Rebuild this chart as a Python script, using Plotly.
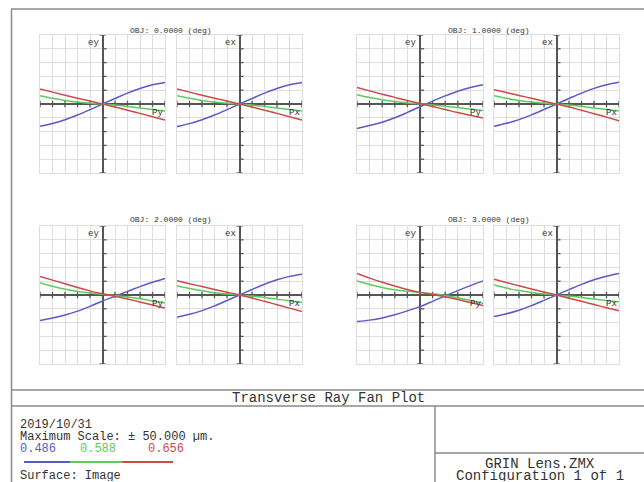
import plotly.graph_objects as go

W, H = 644, 482

# normalised pupil coordinate (Py / Px)
pupil = [-1.0, -0.8, -0.6, -0.4, -0.2, 0.0, 0.2, 0.4, 0.6, 0.8, 1.0]

field_labels = ["OBJ: 0.0000 (deg)", "OBJ: 1.0000 (deg)", "OBJ: 2.0000 (deg)", "OBJ: 3.0000 (deg)"]
wavelengths = ["0.486", "0.588", "0.656"]
wave_colors = ["#5a5ac8", "#5ccc5c", "#cc4a4a"]

# tangential (ey) and sagittal (ex) aberrations in µm
ey0_486 = [-16.2, -14.1, -11.4, -8.0, -4.1, 0.0, 4.0, 7.9, 11.2, 13.9, 15.6]
ey0_588 = [6.0, 4.1, 2.6, 1.4, 0.5, 0.0, -0.8, -1.8, -2.9, -4.0, -5.0]
ey0_656 = [10.9, 8.6, 6.4, 4.2, 2.1, 0.0, -2.2, -4.5, -6.8, -9.2, -11.6]
ex0_486 = [-16.4, -14.2, -11.4, -8.0, -4.1, 0.0, 4.0, 7.9, 11.2, 13.9, 15.6]
ex0_588 = [6.0, 4.1, 2.6, 1.4, 0.5, 0.0, -0.8, -1.8, -2.9, -4.0, -5.0]
ex0_656 = [10.9, 8.6, 6.4, 4.2, 2.1, 0.0, -2.2, -4.5, -6.8, -9.2, -11.6]

ey1_486 = [-17.7, -15.6, -13.2, -10.0, -6.1, -2.0, 2.1, 5.9, 9.3, 12.0, 14.0]
ey1_588 = [6.7, 4.7, 3.1, 1.8, 0.8, 0.1, -0.7, -1.6, -2.6, -3.7, -4.8]
ey1_656 = [12.0, 9.5, 7.1, 4.8, 2.5, 0.3, -1.8, -4.0, -6.2, -8.2, -10.1]
ex1_486 = [-16.2, -14.0, -11.3, -7.9, -4.0, 0.0, 4.0, 7.9, 11.3, 14.0, 15.8]
ex1_588 = [6.0, 4.1, 2.6, 1.4, 0.5, 0.0, -0.8, -1.8, -2.9, -4.0, -5.0]
ex1_656 = [10.4, 8.3, 6.2, 4.1, 2.0, 0.0, -2.2, -4.6, -7.0, -9.5, -12.1]

ey2_486 = [-18.5, -16.7, -14.5, -11.7, -8.2, -4.3, -0.9, 2.6, 6.1, 9.2, 12.0]
ey2_588 = [8.7, 6.3, 4.2, 2.6, 1.4, 0.5, -0.4, -1.5, -2.8, -4.3, -5.8]
ey2_656 = [13.5, 10.8, 8.1, 5.5, 3.0, 0.9, -0.9, -2.9, -5.0, -7.2, -9.4]
ex2_486 = [-16.1, -14.0, -11.3, -7.9, -4.0, 0.0, 4.0, 7.8, 11.0, 13.5, 15.1]
ex2_588 = [6.7, 4.7, 3.0, 1.7, 0.7, 0.0, -0.8, -1.8, -3.0, -4.2, -5.5]
ex2_656 = [10.3, 8.2, 6.1, 4.0, 2.0, 0.0, -2.2, -4.6, -7.0, -9.5, -12.0]

ey3_486 = [-19.2, -18.2, -16.6, -14.3, -11.5, -8.4, -4.6, -0.6, 3.2, 6.8, 10.1]
ey3_588 = [10.1, 7.6, 5.5, 3.8, 2.7, 1.9, 1.0, -0.3, -2.0, -4.0, -6.0]
ey3_656 = [15.6, 12.2, 9.2, 6.5, 4.0, 1.9, 0.4, -1.3, -3.3, -5.5, -7.7]
ex3_486 = [-15.6, -13.6, -11.0, -7.7, -3.9, 0.0, 3.9, 7.7, 11.0, 13.6, 15.6]
ex3_588 = [7.2, 5.0, 3.2, 1.8, 0.8, 0.0, -0.8, -1.8, -2.9, -4.0, -5.0]
ex3_656 = [11.5, 9.0, 6.7, 4.4, 2.2, 0.0, -2.3, -4.6, -6.9, -9.2, -11.5]

max_scale = 50.0
footer_title = "Transverse Ray Fan Plot"
footer_date = "2019/10/31"
footer_scale = "Maximum Scale: \u00b1 50.000 \u00b5m."
footer_surface = "Surface: Image"
footer_file = "GRIN Lens.ZMX"
footer_config = "Configuration 1 of 1"

fans = [
    [(ey0_486, ey0_588, ey0_656), (ex0_486, ex0_588, ex0_656)],
    [(ey1_486, ey1_588, ey1_656), (ex1_486, ex1_588, ex1_656)],
    [(ey2_486, ey2_588, ey2_656), (ex2_486, ex2_588, ex2_656)],
    [(ey3_486, ey3_588, ey3_656), (ex3_486, ex3_588, ex3_656)],
]

# ---- layout geometry (pixels) ----
col_px = [(40, 165), (177, 302), (357, 483), (494, 619)]
row_px = [(35, 173), (226, 364)]
title_y_px = [31, 220]

MONO = "Liberation Mono, DejaVu Sans Mono, monospace"
AXIS_COL = "#555555"
GRID_COL = "#dedede"
LINE_COL = "#8a8a8a"
TEXT_COL = "#333333"


def fx(px):
    return px / W


def fy(py):
    return 1 - py / H


fig = go.Figure()
layout = {}
annotations = []
shapes = []

panel = 0
for f in range(4):
    r = f // 2
    c0 = (f % 2) * 2
    for k, kind in enumerate(["y", "x"]):
        panel += 1
        sfx = "" if panel == 1 else str(panel)
        xa, ya = "x" + sfx, "y" + sfx
        x0, x1 = col_px[c0 + k]
        y0, y1 = row_px[r]
        common = dict(showticklabels=False, ticks="", showgrid=True, gridcolor=GRID_COL,
                      gridwidth=1, zeroline=True, zerolinecolor=AXIS_COL, zerolinewidth=2,
                      showline=True, linecolor=GRID_COL, linewidth=1, mirror=True,
                      fixedrange=True)
        layout["xaxis" + sfx] = dict(domain=[fx(x0), fx(x1)], range=[-1, 1], dtick=0.2,
                                     tick0=0, anchor=ya, **common)
        layout["yaxis" + sfx] = dict(domain=[fy(y1), fy(y0)], range=[-max_scale, max_scale],
                                     dtick=10, tick0=0, anchor=xa, **common)

        # tick marks along the central axes
        tx, ty = [], []
        for p in pupil:
            tx += [p, p, None]
            ty += [-2.3, 2.3, None]
        for v in range(-50, 51, 10):
            if abs(v) == 50:
                tx += [-0.05, 0.05, None]
            else:
                tx += [0.0, 0.065, None]
            ty += [v, v, None]
        fig.add_trace(go.Scatter(x=tx, y=ty, mode="lines", xaxis=xa, yaxis=ya,
                                 line=dict(color=AXIS_COL, width=1.3),
                                 hoverinfo="skip", showlegend=False))

        for w, vals in enumerate(fans[f][k]):
            fig.add_trace(go.Scatter(x=pupil, y=vals, mode="lines", xaxis=xa, yaxis=ya,
                                     line=dict(color=wave_colors[w], width=1.5, shape="spline"),
                                     name=wavelengths[w], showlegend=False))

        annotations.append(dict(xref=xa, yref=ya, x=0, y=max_scale, text="e" + kind,
                                xanchor="right", yanchor="top", xshift=-2, yshift=-1,
                                showarrow=False, font=dict(family=MONO, size=9, color=TEXT_COL)))
        annotations.append(dict(xref=xa, yref=ya, x=1, y=0, text="P" + kind,
                                xanchor="right", yanchor="top", xshift=0, yshift=-2,
                                showarrow=False, font=dict(family=MONO, size=9, color=TEXT_COL)))

    cx = (col_px[c0][1] + col_px[c0 + 1][0]) / 2
    annotations.append(dict(xref="paper", yref="paper", x=fx(cx), y=fy(title_y_px[r]),
                            text=field_labels[f], xanchor="center", yanchor="middle",
                            showarrow=False, font=dict(family=MONO, size=8, color=TEXT_COL)))

# ---- frame and footer boxes ----
def hline(y, xa, xb, color=LINE_COL, width=1.5):
    shapes.append(dict(type="line", xref="paper", yref="paper", x0=fx(xa), x1=fx(xb),
                       y0=fy(y), y1=fy(y), line=dict(color=color, width=width)))


def vline(x, ya, yb):
    shapes.append(dict(type="line", xref="paper", yref="paper", x0=fx(x), x1=fx(x),
                       y0=fy(ya), y1=fy(yb), line=dict(color=LINE_COL, width=1.5)))


hline(9, 11, 644)
vline(11.5, 9, 482)
hline(390, 11, 644)
hline(406, 11, 644)
vline(435, 406, 482)
hline(453, 435, 644)


def text(x, y, s, color=TEXT_COL, anchor="left", size=12, box=11):
    annotations.append(dict(xref="paper", yref="paper", x=fx(x), y=fy(y), text=s,
                            xanchor=anchor, yanchor="middle", showarrow=False,
                            height=box, valign="middle", borderpad=0,
                            font=dict(family=MONO, size=size, color=color)))


text(328, 398, footer_title, anchor="center", size=14, box=14)
text(19, 424, footer_date)
text(19, 436, footer_scale)
col_x = [19, 79, 147]
for w in range(3):
    text(col_x[w], 448, wavelengths[w], color=wave_colors[w])

# colour key under the wavelength labels
seg_x = [24, 70, 122, 173]
for w in range(3):
    hline(462, seg_x[w], seg_x[w + 1], color=wave_colors[w], width=2)

text(19, 475, footer_surface)
text(540, 463, footer_file, anchor="center", size=14)
text(540, 475, footer_config, anchor="center", size=14)

fig.update_layout(width=W, height=H, margin=dict(l=0, r=0, t=0, b=0),
                  paper_bgcolor="white", plot_bgcolor="white",
                  annotations=annotations, shapes=shapes, showlegend=False, **layout)

fig.write_html("out.html")
